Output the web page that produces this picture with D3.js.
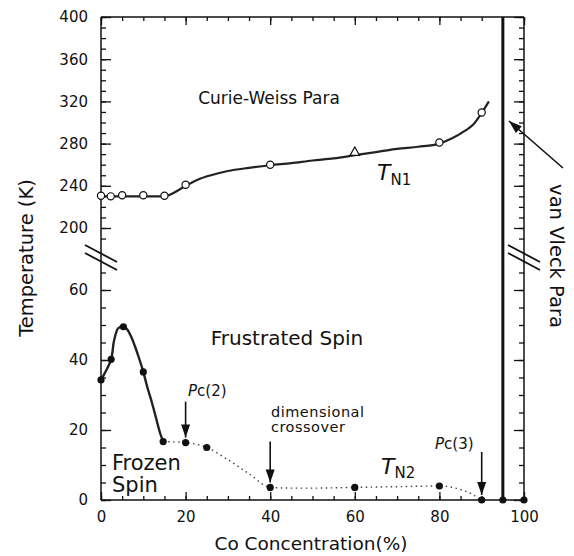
<!DOCTYPE html>
<html><head><meta charset="utf-8">
<script src="https://cdn.jsdelivr.net/npm/d3@7"></script>
<style>body{margin:0;background:#fff}svg{display:block}</style>
</head><body><svg id="c" width="574" height="556"></svg>
<script>
// ---- data ----
const xTicks = [0, 20, 40, 60, 80, 100];
const yUpperTicks = [200, 240, 280, 320, 360, 400];
const yLowerTicks = [0, 20, 40, 60];

// T_N1 boundary (Curie-Weiss para / frustrated spin)
const tn1CurveX = [0, 5, 10, 15, 17, 20, 23, 26, 30, 35, 40, 45, 50, 55, 60, 65, 70, 75, 80, 83, 86, 88, 90, 91.7];
const tn1CurveT = [230, 230, 230, 230, 233, 240, 246, 250, 254, 257, 259.5, 261.5, 264, 266, 269, 272, 275, 277, 280, 285, 292, 298, 309, 320];
const tn1MarkX = [0, 2.3, 5, 10, 15, 20, 40, 80, 90];
const tn1MarkT = [230.5, 230, 231, 231, 230.5, 241, 260, 281, 309.5];
const tn1TriX = [60];
const tn1TriT = [271.5];

// frozen spin boundary (solid) and T_N2 (dotted)
const lowSolidX = [0, 1, 2.4, 3, 3.5, 4, 5, 6, 7, 8, 9, 10, 11, 12, 13, 14, 14.7];
const lowSolidT = [34.3, 36.5, 40.2, 45, 47.5, 49, 49.5, 49, 47, 44, 40.5, 36.6, 32, 28, 23.5, 19, 16.7];
const lowDotX = [14.7, 20, 25, 30, 35, 40, 45, 50, 60, 70, 80, 85, 88, 90, 95, 100];
const lowDotT = [16.7, 16.4, 15, 11.5, 7.5, 3.6, 3.4, 3.4, 3.6, 3.8, 4, 3, 1.5, 0, 0, 0];
const lowMarkX = [0, 2.4, 5.3, 10, 14.7, 20, 25, 40, 60, 80, 90, 95, 100];
const lowMarkT = [34.3, 40.2, 49.5, 36.6, 16.7, 16.4, 15, 3.6, 3.6, 4, 0, 0, 0];

const vanVleckX = 95;
const pc2X = 20, pc2T = 16.4;
const crossX = 40, crossT = 3.6;
const pc3X = 90, pc3T = 0;

// ---- scales ----
const svg = d3.select("#c");
const FONT = "DejaVu Sans, Liberation Sans, Arial, sans-serif";
const INK = "#111";
const x = d3.scaleLinear().domain([0, 100]).range([101, 524]);
const yU = d3.scaleLinear().domain([200, 400]).range([228, 17]);
const yL = d3.scaleLinear().domain([0, 60]).range([500, 290]);
const breakY = 258;

// ---- frame ----
const frame = svg.append("g").attr("stroke", INK).attr("stroke-width", 1.5).attr("fill", "none");
frame.append("line").attr("x1", x(0)).attr("x2", x(100)).attr("y1", yU(400)).attr("y2", yU(400));
frame.append("line").attr("x1", x(0)).attr("x2", x(100)).attr("y1", yL(0)).attr("y2", yL(0));
frame.append("line").attr("x1", x(0)).attr("x2", x(0)).attr("y1", yU(400)).attr("y2", yL(0));
frame.append("line").attr("x1", x(100)).attr("x2", x(100)).attr("y1", yU(400)).attr("y2", yL(0));

function styleAxis(g) {
  g.select(".domain").remove();
  g.selectAll("line").attr("stroke", INK).attr("stroke-width", 1.3);
  g.selectAll("text").attr("font-family", FONT).attr("font-size", 15).attr("fill", INK);
}

// left axis upper
svg.append("g").attr("transform", `translate(${x(0)},0)`)
  .call(d3.axisLeft(yU).tickValues(d3.range(190, 401, 10)).tickSize(-5).tickFormat("")).call(styleAxis);
svg.append("g").attr("transform", `translate(${x(0)},0)`)
  .call(d3.axisLeft(yU).tickValues(yUpperTicks).tickSize(-10).tickPadding(13)).call(styleAxis);
// left axis lower
svg.append("g").attr("transform", `translate(${x(0)},0)`)
  .call(d3.axisLeft(yL).tickValues(d3.range(0, 66, 5)).tickSize(-5).tickFormat("")).call(styleAxis);
svg.append("g").attr("transform", `translate(${x(0)},0)`)
  .call(d3.axisLeft(yL).tickValues(yLowerTicks).tickSize(-10).tickPadding(13)).call(styleAxis);
// right axis
svg.append("g").attr("transform", `translate(${x(100)},0)`)
  .call(d3.axisRight(yU).tickValues(d3.range(190, 401, 10)).tickSize(-5).tickFormat("")).call(styleAxis);
svg.append("g").attr("transform", `translate(${x(100)},0)`)
  .call(d3.axisRight(yU).tickValues(yUpperTicks).tickSize(-10).tickFormat("")).call(styleAxis);
svg.append("g").attr("transform", `translate(${x(100)},0)`)
  .call(d3.axisRight(yL).tickValues(d3.range(0, 66, 5)).tickSize(-5).tickFormat("")).call(styleAxis);
svg.append("g").attr("transform", `translate(${x(100)},0)`)
  .call(d3.axisRight(yL).tickValues(yLowerTicks).tickSize(-10).tickFormat("")).call(styleAxis);
// top axis
svg.append("g").attr("transform", `translate(0,${yU(400)})`)
  .call(d3.axisTop(x).tickValues(d3.range(0, 101, 5)).tickSize(-4).tickFormat("")).call(styleAxis);
svg.append("g").attr("transform", `translate(0,${yU(400)})`)
  .call(d3.axisTop(x).tickValues(xTicks).tickSize(-8).tickFormat("")).call(styleAxis);
// bottom axis
svg.append("g").attr("transform", `translate(0,${yL(0)})`)
  .call(d3.axisBottom(x).tickValues(d3.range(0, 101, 5)).tickSize(-4).tickFormat("")).call(styleAxis);
svg.append("g").attr("transform", `translate(0,${yL(0)})`)
  .call(d3.axisBottom(x).tickValues(xTicks).tickSize(-8).tickPadding(11)).call(styleAxis);

// break marks
[x(0), x(100)].forEach(cx => {
  [-4, 4].forEach(off => {
    svg.append("line").attr("x1", cx - 16).attr("y1", breakY + off - 9)
      .attr("x2", cx + 16).attr("y2", breakY + off + 8)
      .attr("stroke", INK).attr("stroke-width", 1.8);
  });
});

// van Vleck boundary
svg.append("line").attr("x1", x(vanVleckX)).attr("x2", x(vanVleckX))
  .attr("y1", yU(400)).attr("y2", yL(0)).attr("stroke", INK).attr("stroke-width", 3);

// T_N1 curve
const tn1Data = tn1CurveX.map((v, i) => [v, tn1CurveT[i]]);
svg.append("path").datum(tn1Data)
  .attr("d", d3.line().x(d => x(d[0])).y(d => yU(d[1])).curve(d3.curveMonotoneX))
  .attr("fill", "none").attr("stroke", "#222").attr("stroke-width", 2.2);
svg.append("g").selectAll("circle").data(tn1MarkX.map((v, i) => [v, tn1MarkT[i]])).join("circle")
  .attr("cx", d => x(d[0])).attr("cy", d => yU(d[1])).attr("r", 3.6)
  .attr("fill", "#fff").attr("stroke", INK).attr("stroke-width", 1.2);
svg.append("g").selectAll("path").data(tn1TriX.map((v, i) => [v, tn1TriT[i]])).join("path")
  .attr("transform", d => `translate(${x(d[0])},${yU(d[1])})`)
  .attr("d", d3.symbol().type(d3.symbolTriangle).size(40))
  .attr("fill", "#fff").attr("stroke", INK).attr("stroke-width", 1.2);

// lower curves
const lowSolid = lowSolidX.map((v, i) => [v, lowSolidT[i]]);
svg.append("path").datum(lowSolid)
  .attr("d", d3.line().x(d => x(d[0])).y(d => yL(d[1])).curve(d3.curveCatmullRom))
  .attr("fill", "none").attr("stroke", "#222").attr("stroke-width", 2.4);
const lowDot = lowDotX.map((v, i) => [v, lowDotT[i]]);
svg.append("path").datum(lowDot)
  .attr("d", d3.line().x(d => x(d[0])).y(d => yL(d[1])).curve(d3.curveMonotoneX))
  .attr("fill", "none").attr("stroke", "#444").attr("stroke-width", 1.4).attr("stroke-dasharray", "1.5,3.5");
svg.append("g").selectAll("circle").data(lowMarkX.map((v, i) => [v, lowMarkT[i]])).join("circle")
  .attr("cx", d => x(d[0])).attr("cy", d => yL(d[1])).attr("r", 3.6).attr("fill", INK);

// arrows
function arrow(x1, y1, x2, y2) {
  svg.append("line").attr("x1", x1).attr("y1", y1).attr("x2", x2).attr("y2", y2)
    .attr("stroke", INK).attr("stroke-width", 1.6);
  const a = Math.atan2(y2 - y1, x2 - x1), L = 13, W = 4.5;
  const bx = x2 - L * Math.cos(a), by = y2 - L * Math.sin(a);
  const px = -Math.sin(a) * W, py = Math.cos(a) * W;
  svg.append("path").attr("d", `M${x2},${y2}L${bx + px},${by + py}L${bx - px},${by - py}Z`).attr("fill", INK);
}
arrow(x(pc2X), yL(pc2T) - 41, x(pc2X), yL(pc2T) - 5);
arrow(x(crossX), yL(crossT) - 46, x(crossX), yL(crossT) - 5);
arrow(x(pc3X), yL(pc3T) - 48, x(pc3X), yL(pc3T) - 5);
arrow(563, 168, 509, 121);

// text
function txt(t, px, py, size, opts = {}) {
  const e = svg.append("text").attr("x", px).attr("y", py).attr("font-family", FONT)
    .attr("font-size", size).attr("fill", INK).text(t);
  if (opts.anchor) e.attr("text-anchor", opts.anchor);
  if (opts.rotate !== undefined) e.attr("transform", `rotate(${opts.rotate},${px},${py})`);
  if (opts.ls) e.attr("letter-spacing", opts.ls);
  return e;
}
txt("Curie-Weiss Para", 269, 104, 17, {anchor: "middle"});
txt("Frustrated Spin", 287, 345, 20, {anchor: "middle"});
txt("Frozen", 112, 470, 21);
txt("Spin", 112, 492, 21);
txt("dimensional", 271, 417, 14.5, {ls: 0.5});
txt("crossover", 271, 432, 14.5, {ls: 0.5});
txt("Temperature (K)", 33, 258, 19.5, {anchor: "middle", rotate: -90});
txt("Co Concentration(%)", 311, 550, 18.5, {anchor: "middle"});
txt("van Vleck Para", 550, 256, 19.5, {anchor: "middle", rotate: 90});

function sub(main, s, px, py, size, ssize, dy) {
  const e = svg.append("text").attr("x", px).attr("y", py).attr("font-family", FONT).attr("fill", INK);
  e.append("tspan").attr("font-size", size).attr("font-style", "italic").text(main);
  e.append("tspan").attr("font-size", ssize).attr("dy", dy).text(s);
}
sub("T", "N1", 377, 180, 22, 15, 5);
sub("T", "N2", 381, 474, 22, 15, 4);
sub("P", "c(2)", 188, 396, 15, 15, 0);
sub("P", "c(3)", 435, 449, 15, 15, 0);
</script></body></html>
